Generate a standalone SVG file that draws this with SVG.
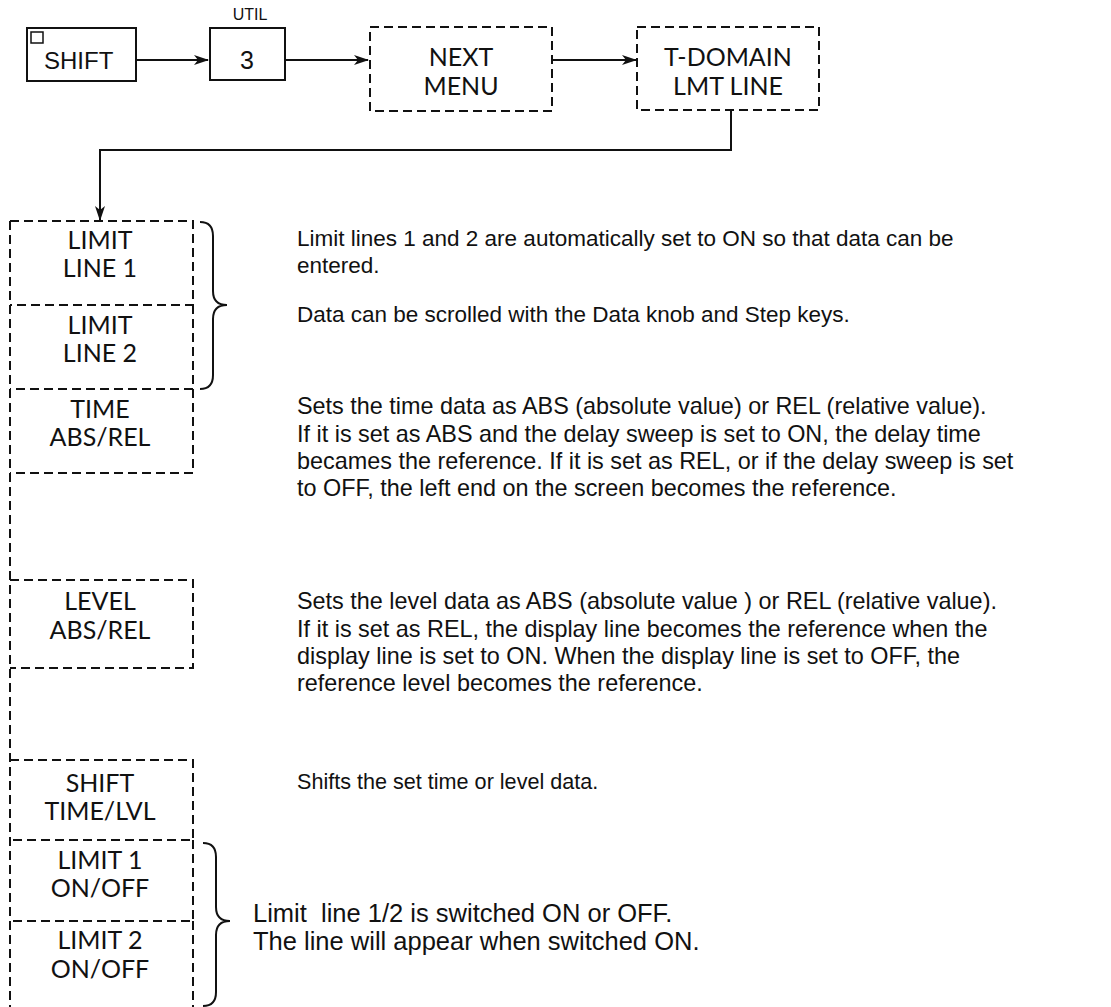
<svg xmlns="http://www.w3.org/2000/svg" width="1111" height="1007" viewBox="0 0 1111 1007">
<style>
.solid{fill:none;stroke:#111;stroke-width:2}
.dash{fill:none;stroke:#111;stroke-width:2;stroke-dasharray:9 5}
.conn{fill:none;stroke:#111;stroke-width:2}
.lbl{font-family:Lato,"Open Sans",sans-serif;font-size:25px;fill:#111;text-anchor:middle}
.top{font-family:Lato,"Open Sans",sans-serif;font-size:25px;fill:#111;text-anchor:middle}
.hv{font-family:"Liberation Sans",Arial,sans-serif;fill:#111}
.body{font-family:"Liberation Sans",Arial,sans-serif;font-size:22.5px;fill:#111}
.body2{font-family:"Liberation Sans",Arial,sans-serif;font-size:23.4px;fill:#111}
.body3{font-family:"Liberation Sans",Arial,sans-serif;font-size:21.6px;fill:#111}
.body4{font-family:"Liberation Sans",Arial,sans-serif;font-size:25.5px;fill:#111}
</style>
<defs>
<marker id="ah" markerWidth="15" markerHeight="10" refX="14" refY="5" orient="auto" markerUnits="userSpaceOnUse">
<path d="M0,0 L15,5 L0,10 L4,5 Z" fill="#111"/>
</marker>
</defs>
<rect width="1111" height="1007" fill="#fff"/>

<g id="node-shift">
<rect class="solid" x="27" y="28" width="109" height="53"/>
<rect x="31" y="32" width="12" height="11" fill="none" stroke="#111" stroke-width="1.5"/>
<text class="hv" x="44" y="69" style="font-size:24px">SHIFT</text>
</g>
<g id="node-3">
<text class="hv" x="250" y="20" style="font-size:16px" text-anchor="middle">UTIL</text>
<rect class="solid" x="210" y="28" width="75" height="52"/>
<text class="hv" x="247" y="69" style="font-size:25px" text-anchor="middle">3</text>
</g>
<g id="node-next">
<rect class="dash" x="370" y="27" width="182" height="84"/>
<text class="top" x="461" y="66">NEXT</text>
<text class="top" x="461" y="95">MENU</text>
</g>
<g id="node-tdomain">
<rect class="dash" x="637" y="27" width="182" height="83"/>
<text class="top" x="728" y="66">T-DOMAIN</text>
<text class="top" x="728" y="95">LMT LINE</text>
</g>

<g id="connectors">
<line class="conn" x1="136" y1="60" x2="208" y2="60" marker-end="url(#ah)"/>
<line class="conn" x1="285" y1="60" x2="368" y2="60" marker-end="url(#ah)"/>
<line class="conn" x1="552" y1="60" x2="636" y2="60" marker-end="url(#ah)"/>
<polyline class="conn" points="731,110 731,150 100,150 100,220" marker-end="url(#ah)"/>
</g>

<g id="column-left">
<line class="dash" x1="10" y1="221" x2="10" y2="1007"/>
</g>

<g id="node-limit-line-1">
<path class="dash" d="M10,221 H193 V305 H10"/>
<text class="lbl" x="100" y="249">LIMIT</text>
<text class="lbl" x="100" y="277">LINE 1</text>
</g>
<g id="node-limit-line-2">
<path class="dash" d="M193,305 V389 H10"/>
<text class="lbl" x="100" y="334">LIMIT</text>
<text class="lbl" x="100" y="362">LINE 2</text>
</g>
<g id="node-time">
<path class="dash" d="M193,389 V473 H10"/>
<text class="lbl" x="100" y="418">TIME</text>
<text class="lbl" x="100" y="446">ABS/REL</text>
</g>
<g id="node-level">
<path class="dash" d="M10,580 H193 V668 H10"/>
<text class="lbl" x="100" y="610">LEVEL</text>
<text class="lbl" x="100" y="639">ABS/REL</text>
</g>
<g id="node-shift-time">
<path class="dash" d="M10,760 H193 V840 H10"/>
<text class="lbl" x="100" y="792">SHIFT</text>
<text class="lbl" x="100" y="820">TIME/LVL</text>
</g>
<g id="node-limit1-onoff">
<path class="dash" d="M193,840 V921 H10"/>
<text class="lbl" x="100" y="869">LIMIT 1</text>
<text class="lbl" x="100" y="897">ON/OFF</text>
</g>
<g id="node-limit2-onoff">
<path class="dash" d="M193,921 V1007"/>
<text class="lbl" x="100" y="949">LIMIT 2</text>
<text class="lbl" x="100" y="978">ON/OFF</text>
</g>

<g id="braces">
<path class="conn" d="M200,222 Q213,222 213,236 L213,291 Q213,305 227,305 Q213,305 213,319 L213,375 Q213,389 200,389"/>
<path class="conn" d="M203,843 Q216,843 216,857 L216,907 Q216,921 230,921 Q216,921 216,935 L216,992 Q216,1006 203,1006"/>
</g>

<g id="descriptions">
<text class="body" x="297" y="246">Limit lines 1 and 2 are automatically set to ON so that data can be</text>
<text class="body" x="297" y="273">entered.</text>
<text class="body" x="297" y="322">Data can be scrolled with the Data knob and Step keys.</text>
<text class="body2" x="297" y="414">Sets the time data as ABS (absolute value) or REL (relative value).</text>
<text class="body2" x="297" y="442">If it is set as ABS and the delay sweep is set to ON, the delay time</text>
<text class="body2" x="297" y="469">becames the reference. If it is set as REL, or if the delay sweep is set</text>
<text class="body2" x="297" y="496">to OFF, the left end on the screen becomes the reference.</text>
<text class="body2" x="297" y="609">Sets the level data as ABS (absolute value ) or REL (relative value).</text>
<text class="body2" x="297" y="637">If it is set as REL, the display line becomes the reference when the</text>
<text class="body2" x="297" y="664">display line is set to ON. When the display line is set to OFF, the</text>
<text class="body2" x="297" y="691">reference level becomes the reference.</text>
<text class="body3" x="297" y="789">Shifts the set time or level data.</text>
<text class="body4" x="253" y="922" xml:space="preserve">Limit  line 1/2 is switched ON or OFF.</text>
<text class="body4" x="253" y="950">The line will appear when switched ON.</text>
</g>
</svg>
